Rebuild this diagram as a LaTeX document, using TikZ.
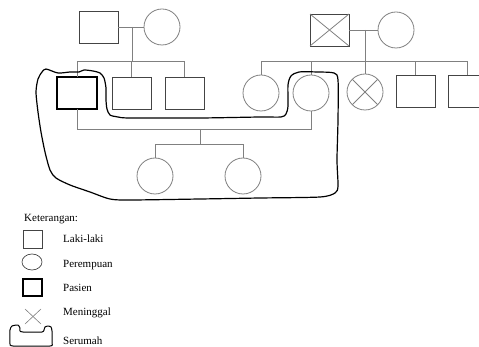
\documentclass[tikz,border=0pt]{standalone}
\usepackage{fontspec}
\setmainfont{Liberation Serif}
\definecolor{shapecol}{HTML}{444444}
\definecolor{linkcol}{HTML}{808080}
\tikzset{
  male/.style={rectangle, draw=shapecol, line width=0.8pt, minimum width=39pt, minimum height=32pt, inner sep=0pt, outer sep=0pt},
  female/.style={circle, draw=linkcol, line width=0.8pt, minimum size=36pt, inner sep=0pt, outer sep=0pt},
  patient/.style={male, draw=black, line width=1.8pt, minimum width=40pt},
  link/.style={draw=linkcol, line width=0.8pt},
  house/.style={draw=black, line width=1.2pt, line join=round, line cap=round},
  legtext/.style={anchor=west, inner sep=0pt, font=\fontsize{11}{13}\selectfont},
}
\begin{document}
\begin{tikzpicture}[x=1pt, y=-1pt]
\useasboundingbox (0,0) rectangle (479,347);
\clip (0,0) rectangle (479,347);

% grandparents, left side
\node[male]   (gf1) at (98.5,27) {};
\node[female] (gm1) at (162,27) {};
% grandparents, right side (grandfather deceased)
\node[male]   (gf2) at (329.5,30) {};
\node[female] (gm2) at (396,30) {};
\draw[link] (gf2.north west) -- (gf2.south east) (gf2.north east) -- (gf2.south west);

% children of the left couple
\node[patient] (P)  at (77,93) {};
\node[male]    (s2) at (131.5,93) {};
\node[male]    (s3) at (184.5,93) {};
% children of the right couple
\node[female] (c1) at (261,93) {};
\node[female] (c2) at (311,93) {};
\node[female] (c3) at (365,92) {};
\draw[link] (c3.north west) -- (c3.south east) (c3.north east) -- (c3.south west);
\node[male]   (c4) at (415.5,91) {};
\node[male]   (c5) at (467.5,91) {};

% grandchildren
\node[female] (g1) at (155,176) {};
\node[female] (g2) at (243,176) {};

% marriage and descent lines, left couple
\coordinate (m1) at (132,27);
\coordinate (sib1) at (132,61);
\draw[link] (gf1.east) -- (gm1.west);
\draw[link] (m1) -- (sib1);
\draw[link] (P.north) -- (P.north |- sib1) -- (s3.north |- sib1) -- (s3.north);
\draw[link] (s2.north) -- (s2.north |- sib1);

% marriage and descent lines, right couple
\coordinate (m2) at (365,30);
\coordinate (sib2) at (365,61);
\draw[link] (gf2.east) -- (gm2.west);
\draw[link] (m2) -- (sib2);
\draw[link] (c1.north) -- (c1.north |- sib2) -- (c5.north |- sib2) -- (c5.north);
\draw[link] (c2.north) -- (c2.north |- sib2);
\draw[link] (c3.north) -- (c3.north |- sib2);
\draw[link] (c4.north) -- (c4.north |- sib2);

% patient's marriage and their children
\coordinate (m3) at (200,129);
\coordinate (sib3) at (200,144);
\draw[link] (P.south) -- (P.south |- m3) -- (c2.south |- m3) -- (c2.south);
\draw[link] (m3) -- (sib3);
\draw[link] (g1.north) -- (g1.north |- sib3) -- (g2.north |- sib3) -- (g2.north);

% household outline
\draw[house] plot[smooth cycle, tension=0.45] coordinates {
  (46,69) (58,73) (70,72) (79,72) (84,70) (93,71) (100,73) (104,78)
  (106,88) (106,100) (107,109) (110,115) (118,117) (130,118) (200,118)
  (260,117) (281,117) (286,114) (288,106) (288,85) (291,76) (299,72)
  (318,72) (334,73) (338,80) (338,120) (337,160) (338,186) (335,193)
  (320,197) (260,198) (200,199) (130,200) (110,199) (90,192) (70,185)
  (56,178) (50,170) (45,152) (41,132) (38,112) (36,92) (38,79) (42,72)
};

% legend
\node[legtext] (kt) at (24,219) {Keterangan:};
\draw[draw=shapecol, line width=0.7pt] (23,230) rectangle (42,248);
\node[legtext] (l1) at (63,239) {Laki-laki};
\draw[draw=shapecol, line width=0.7pt] (32,262) ellipse [x radius=10, y radius=8];
\node[legtext] (l2) at (63,265) {Perempuan};
\draw[draw=black, line width=1.8pt] (23,279) rectangle (42,296);
\node[legtext] (l3) at (63,288) {Pasien};
\draw[link, line width=0.6pt] (25,309) -- (41,324) (41,309) -- (25,324);
\node[legtext] (l4) at (63,313) {Meninggal};
\draw[house, line width=1pt] plot[smooth, tension=0.35] coordinates {
  (10,344) (10,330) (12,326) (18,325) (20,328) (20,331) (23,332) (42,332)
  (44,330) (45,327) (48,326) (51,327) (52,331) (52,343) (50,346) (13,346) (10,344)
};
\node[legtext] (l5) at (63,341) {Serumah};
\end{tikzpicture}
\end{document}
